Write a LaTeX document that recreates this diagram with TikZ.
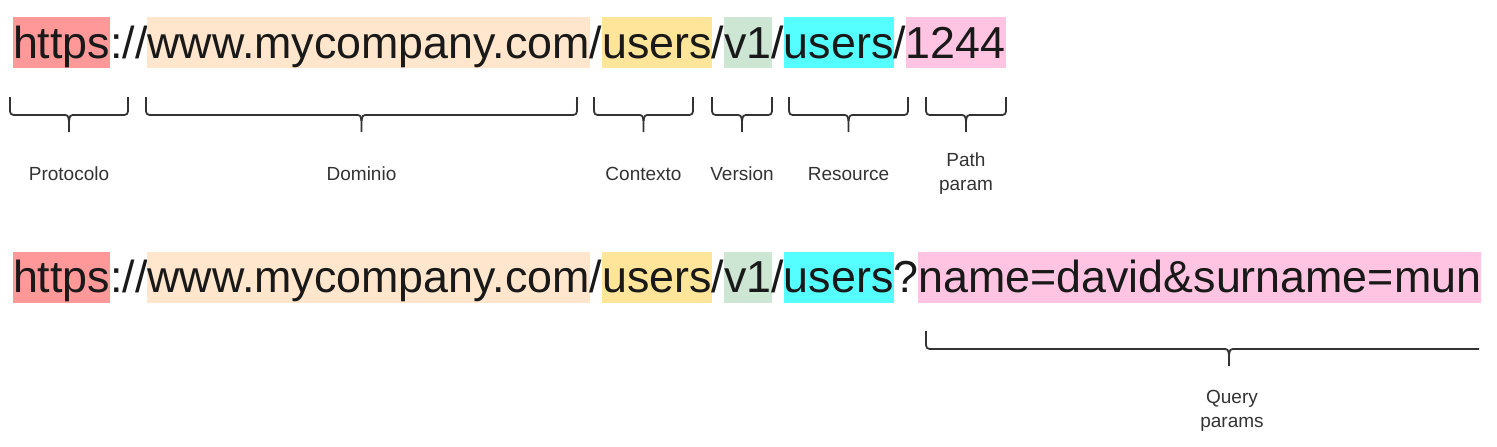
\documentclass[tikz,border=0pt]{standalone}
\usepackage{fontspec}
\setmainfont{Liberation Sans}
\usetikzlibrary{positioning}

\definecolor{protored}{HTML}{FF9999}
\definecolor{domainorange}{HTML}{FFE6CC}
\definecolor{ctxyellow}{HTML}{FFE599}
\definecolor{vergreen}{HTML}{CCE6D3}
\definecolor{rescyan}{HTML}{55FFFF}
\definecolor{parampink}{HTML}{FFC4E1}
\definecolor{bracegray}{HTML}{333333}

\tikzset{
	part/.style={inner sep=0pt, outer sep=0pt, text height=20.5pt, text depth=5pt,
		font=\fontsize{22.4}{27}\selectfont, text=black!90},
	bracket/.style={draw=bracegray, line width=0.9pt, line join=round},
	tag/.style={font=\fontsize{9.5}{12}\selectfont, text=bracegray, align=center},
}

% Flat curly bracket: left x, right x, top y.
\newcommand{\urlbrace}[3]{%
	\pgfmathsetmacro{\bmid}{(#1+#2)/2}
	\draw[bracket] (#1,#3) -- (#1,#3+10) .. controls (#1,#3+18) .. (#1+8,#3+18)
		-- (\bmid-7,#3+18) .. controls (\bmid-1,#3+18) .. (\bmid,#3+24) -- (\bmid,#3+35);
	\draw[bracket] (#2,#3) -- (#2,#3+10) .. controls (#2,#3+18) .. (#2-8,#3+18)
		-- (\bmid+7,#3+18) .. controls (\bmid+1,#3+18) .. (\bmid,#3+24);
}

\begin{document}
\begin{tikzpicture}[x=0.5pt, y=-0.5pt]

	\useasboundingbox (0,0) rectangle (1497,446);

	% First url: path param.
	\node[part, fill=protored, anchor=west] (proto) at (13,42.5) {https};
	\node[part, right=0pt of proto] (colon) {://};
	\node[part, fill=domainorange, right=0pt of colon] (domain) {www.mycompany.com};
	\node[part, right=0pt of domain] (slashA) {/};
	\node[part, fill=ctxyellow, right=0pt of slashA] (ctx) {users};
	\node[part, right=0pt of ctx] (slashB) {/};
	\node[part, fill=vergreen, right=0pt of slashB] (ver) {v1};
	\node[part, right=0pt of ver] (slashC) {/};
	\node[part, fill=rescyan, right=0pt of slashC] (res) {users};
	\node[part, right=0pt of res] (slashD) {/};
	\node[part, fill=parampink, right=0pt of slashD] (pathparam) {1244};

	% Second url: query params.
	\node[part, fill=protored, anchor=west] (protoB) at (13,277) {https};
	\node[part, right=0pt of protoB] (colonB) {://};
	\node[part, fill=domainorange, right=0pt of colonB] (domainB) {www.mycompany.com};
	\node[part, right=0pt of domainB] (slashE) {/};
	\node[part, fill=ctxyellow, right=0pt of slashE] (ctxB) {users};
	\node[part, right=0pt of ctxB] (slashF) {/};
	\node[part, fill=vergreen, right=0pt of slashF] (verB) {v1};
	\node[part, right=0pt of verB] (slashG) {/};
	\node[part, fill=rescyan, right=0pt of slashG] (resB) {users};
	\node[part, right=0pt of resB] (quest) {?};
	\node[part, fill=parampink, right=0pt of quest] (query) {name=david\&surname=mun};

	% Braces and their labels.
	\foreach \a/\b/\txt [count=\i] in {10/128/Protocolo, 146/577/Dominio,
		594/693/Contexto, 712/772/Version, 789/908/Resource, 926/1006/Path\\param} {
		\urlbrace{\a}{\b}{97}
		\node[tag] (lbl\i) at ({(\a+\b)/2},174) {\txt};
	}

	% Query brace runs off the right edge.
	\begin{scope}
		\clip (0,300) rectangle (1479,446);
		\urlbrace{926}{1532}{331}
	\end{scope}
	\node[tag] (lblQuery) at (1232,411) {Query\\params};

\end{tikzpicture}
\end{document}
